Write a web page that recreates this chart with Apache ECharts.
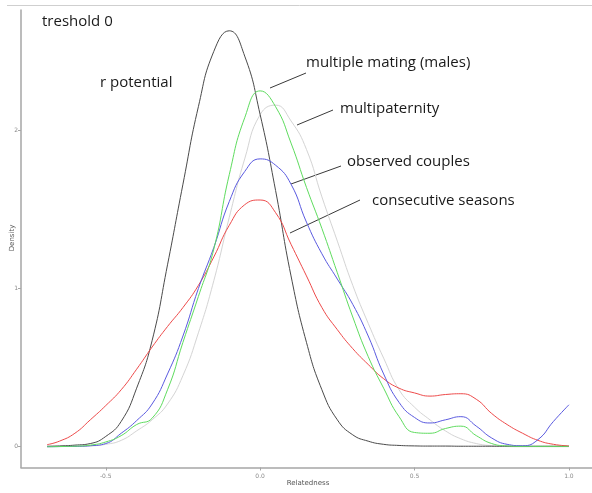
<!DOCTYPE html>
<html>
<head>
<meta charset="utf-8">
<script src="https://cdn.jsdelivr.net/npm/echarts@6/dist/echarts.min.js"></script>
<style>
html,body{margin:0;padding:0;background:#fff;}
#chart{width:592px;height:493px;}
</style>
</head>
<body>
<div id="chart"></div>
<script>
// Relatedness grid (x) and density values (y)
const relatedness = [-0.69,-0.65,-0.60,-0.55,-0.50,-0.45,-0.40,-0.35,-0.30,-0.25,-0.20,-0.15,-0.10,-0.05,0.00,0.05,0.10,0.15,0.20,0.25,0.30,0.35,0.40,0.45,0.50,0.55,0.60,0.65,0.70,0.75,0.80,0.85,0.90,0.95,1.00];
const rPotential = [0.003,0.005,0.01,0.02,0.065,0.16,0.37,0.67,1.15,1.66,2.15,2.50,2.63,2.47,2.10,1.62,1.08,0.66,0.36,0.17,0.075,0.035,0.015,0.008,0.005,0.004,0.004,0.003,0.003,0.003,0.003,0.003,0.003,0.003,0.003];
const consecutiveSeasons = [0.013,0.035,0.085,0.17,0.26,0.36,0.49,0.63,0.76,0.88,1.02,1.20,1.40,1.53,1.56,1.48,1.28,1.08,0.88,0.74,0.62,0.52,0.43,0.37,0.34,0.32,0.33,0.335,0.30,0.21,0.14,0.085,0.04,0.015,0.005];
const observedCouples = [0.0,0.001,0.002,0.006,0.02,0.085,0.165,0.27,0.46,0.70,1.00,1.26,1.55,1.74,1.82,1.78,1.66,1.42,1.22,1.06,0.90,0.70,0.46,0.28,0.185,0.15,0.17,0.19,0.13,0.055,0.015,0.006,0.045,0.16,0.265];
const multipleMating = [0.0,0.001,0.003,0.01,0.03,0.07,0.14,0.18,0.36,0.66,0.95,1.25,1.72,2.08,2.25,2.15,1.92,1.64,1.38,1.10,0.82,0.57,0.37,0.19,0.09,0.085,0.115,0.13,0.07,0.02,0.005,0.002,0.002,0.002,0.002];
const multipaternity = [0.0,0.001,0.002,0.005,0.015,0.04,0.10,0.17,0.27,0.45,0.72,1.05,1.45,1.82,2.10,2.16,2.06,1.88,1.58,1.30,1.02,0.78,0.56,0.36,0.25,0.17,0.10,0.05,0.02,0.006,0.001,0.0,0.0,0.0,0.0];
const xTicks = [-0.5, 0, 0.5, 1.0];
const yTicks = [0, 1, 2];

function pairs(ys){ return relatedness.map((x,i)=>[x, ys[i]]); }

const chart = echarts.init(document.getElementById('chart'), null, {renderer:'canvas'});
const axisGray = '#a6a6a6';
const labelGray = '#8a8a8a';

function lineSeries(name, ys, color, z){
  return {
    name: name, type:'line', data: pairs(ys), smooth: 0.5,
    showSymbol:false, symbol:'none', z: z,
    lineStyle:{color: color, width: 1},
    emphasis:{disabled:true}, silent:true
  };
}

const annFont = '"Open Sans", sans-serif';
function txt(s, x, y){
  return {type:'text', left: x, top: y, silent:true,
    style:{text:s, font:'15px ' + annFont, fill:'#1a1a1a', textVerticalAlign:'middle'}};
}
function seg(x1,y1,x2,y2){
  return {type:'line', silent:true, shape:{x1:x1,y1:y1,x2:x2,y2:y2},
    style:{stroke:'#3a3a3a', lineWidth:1}};
}

chart.setOption({
  animation:false,
  backgroundColor:'#ffffff',
  grid:{left:21, top:10, width:574, height:457.5, containLabel:false, outerBoundsMode:'none'},
  xAxis:{
    type:'value', min:-0.7745, max:1.0845,
    axisLine:{show:true, onZero:false, lineStyle:{color:axisGray, width:1.5}},
    axisTick:{show:true, length:3, customValues:xTicks, lineStyle:{color:axisGray}},
    axisLabel:{customValues:xTicks, fontSize:6, color:labelGray, margin:6, fontFamily:'DejaVu Sans',
      formatter:(v)=>Number(v).toFixed(1)},
    splitLine:{show:false}
  },
  yAxis:{
    type:'value', min:-0.1315, max:2.7615,
    axisLine:{show:true, onZero:false, lineStyle:{color:axisGray, width:1.5}},
    axisTick:{show:true, length:3, customValues:yTicks, lineStyle:{color:axisGray}},
    axisLabel:{customValues:yTicks, fontSize:6, color:labelGray, margin:3, fontFamily:'DejaVu Sans'},
    splitLine:{show:false}
  },
  series:[
    lineSeries('multipaternity', multipaternity, '#d4d4d4', 2),
    lineSeries('r potential', rPotential, '#4a4a4a', 3),
    lineSeries('consecutive seasons', consecutiveSeasons, '#ee4a4a', 4),
    lineSeries('observed couples', observedCouples, '#5a5ae0', 5),
    lineSeries('multiple mating (males)', multipleMating, '#5edc5e', 6)
  ],
  graphic:[
    {type:'line', silent:true, shape:{x1:7,y1:5.5,x2:592,y2:5.5}, style:{stroke:'#cfcfcf', lineWidth:1}},
    {type:'text', silent:true, x:12.5, y:238, rotation:Math.PI/2,
      style:{text:'Density', font:'7px "DejaVu Sans"', fill:'#555', textAlign:'center', textVerticalAlign:'middle'}},
    {type:'text', silent:true, x:308, y:483.5,
      style:{text:'Relatedness', font:'7px "DejaVu Sans"', fill:'#555', textAlign:'center', textVerticalAlign:'middle'}},
    txt('treshold 0', 42, 14),
    txt('r potential', 100, 75),
    txt('multiple mating (males)', 306, 55),
    txt('multipaternity', 340, 101),
    txt('observed couples', 347, 154),
    txt('consecutive seasons', 372, 193),
    seg(270,88,306,73),
    seg(297,125,333,110),
    seg(291,184,341,166),
    seg(290,233,360,200)
  ]
});
</script>
</body>
</html>
